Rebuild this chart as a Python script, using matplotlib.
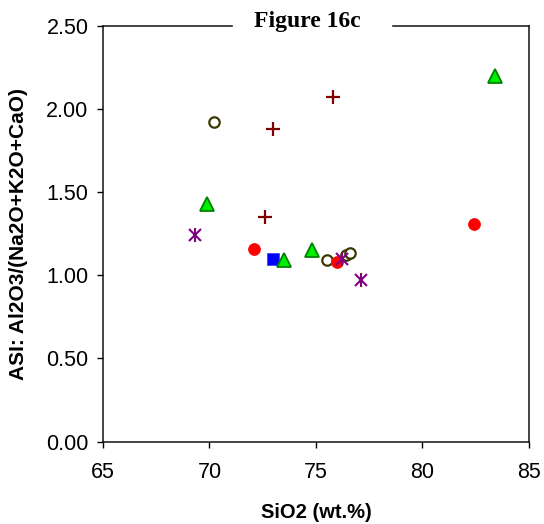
import matplotlib
matplotlib.use('Agg')
import matplotlib.pyplot as plt
from matplotlib.ticker import FormatStrFormatter

# SiO2 (wt.%) and ASI values for each sample group
tri_x = [83.4, 69.9, 73.5, 74.8]
tri_y = [2.20, 1.43, 1.09, 1.15]

plus_x = [75.8, 73.0, 72.6]
plus_y = [2.07, 1.88, 1.35]

ring_x = [70.2, 75.5, 76.4, 76.6]
ring_y = [1.92, 1.09, 1.12, 1.135]

dot_x = [72.1, 76.0, 82.4]
dot_y = [1.16, 1.08, 1.31]

square_x = [73.0]
square_y = [1.10]

star_x = [69.3, 76.2, 77.1]
star_y = [1.24, 1.10, 0.97]

x_ticks = [65, 70, 75, 80, 85]
y_ticks = [0.0, 0.5, 1.0, 1.5, 2.0, 2.5]

plt.rcParams['font.family'] = ['Liberation Sans', 'DejaVu Sans']

fig = plt.figure(figsize=(5.44, 5.24), dpi=100)
ax = fig.add_axes([0.1893, 0.1571, 0.7831, 0.7939])

# open circles
ax.plot(ring_x, ring_y, 'o', ms=7.5, mfc='white', mec='#3a3a00', mew=1.6, ls='none')
# red dots
ax.plot(dot_x, dot_y, 'o', ms=8.6, mfc='#ff0000', mec='#ff0000', mew=0.5, ls='none')
# blue square
ax.plot(square_x, square_y, 's', ms=8.2, mfc='#0000ff', mec='#3333ff', mew=0.5, ls='none')
# green triangles
ax.plot(tri_x, tri_y, '^', ms=9.5, mfc='#00ee00', mec='#008000', mew=1.3, ls='none')
# plus signs
ax.plot(plus_x, plus_y, '+', ms=10, mec='#800000', mew=1.6, ls='none')
# asterisks (x plus a vertical bar)
ax.plot(star_x, star_y, 'x', ms=9, mec='#800080', mew=1.5, ls='none')
ax.plot(star_x, star_y, '|', ms=10, mec='#800080', mew=1.5, ls='none')

ax.set_xlim(65, 85)
ax.set_ylim(0, 2.5)
ax.set_xticks(x_ticks)
ax.set_yticks(y_ticks)
ax.yaxis.set_major_formatter(FormatStrFormatter('%.2f'))

for s in ax.spines.values():
    s.set_linewidth(1.1)
    s.set_color('#111111')

ax.tick_params(axis='both', direction='out', length=4.5, width=1.0, labelsize=15.5)
ax.tick_params(axis='x', pad=10)
ax.tick_params(axis='y', pad=6)

ax.set_xlabel('SiO2 (wt.%)', fontsize=14.5, fontweight='bold')
ax.xaxis.set_label_coords(0.5, -0.148)
ax.set_ylabel('ASI: Al2O3/(Na2O+K2O+CaO)', fontsize=15, fontweight='bold')
ax.yaxis.set_label_coords(-0.176, 0.5)

# title sits on the top frame line, with a white box cutting the line
ax.text(0.479, 0.996, 'Figure 16c', transform=ax.transAxes, ha='center', va='baseline',
        fontsize=17, fontweight='bold', family=['Liberation Serif', 'DejaVu Serif'],
        bbox=dict(boxstyle='square,pad=0.2', fc='white', ec='none'), zorder=5)
# widen the gap in the frame line
ax.axhspan(2.47, 2.53, xmin=0.305, xmax=0.675, color='white', clip_on=False, zorder=4)

plt.savefig('out.png', dpi=100)
